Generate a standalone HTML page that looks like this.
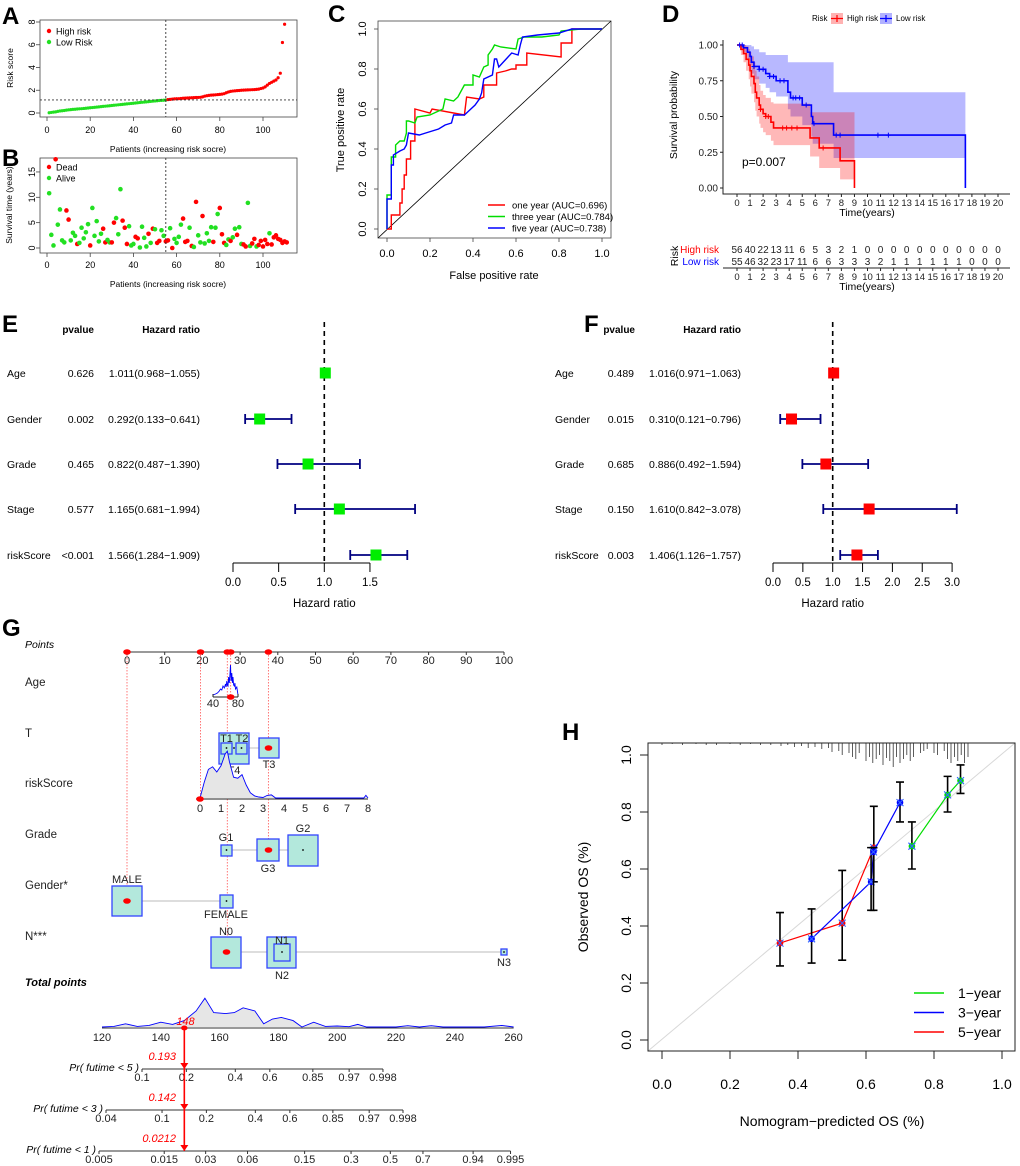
<!DOCTYPE html>
<html><head><meta charset="utf-8"><style>
html,body{margin:0;padding:0;background:#fff;}
svg{display:block;font-family:"Liberation Sans",Arial,sans-serif;}
</style></head><body>
<svg id="fig" width="1020" height="1166" viewBox="0 0 1020 1166" xmlns="http://www.w3.org/2000/svg">
<rect width="1020" height="1166" fill="#fff"/>
<g font-weight="bold" font-size="24" fill="#000">
<text x="2" y="24">A</text>
<text x="2" y="166">B</text>
<text x="328" y="22">C</text>
<text x="662" y="22">D</text>
<text x="2" y="332">E</text>
<text x="584" y="332">F</text>
<text x="2" y="636">G</text>
<text x="562" y="740">H</text>
</g>
</svg>
<script>
// ---------- DATA ----------
const riskScores=[0.02,0.05,0.08,0.1,0.14,0.18,0.2,0.22,0.25,0.28,0.3,0.32,0.33,0.35,0.37,0.38,0.4,0.42,0.44,0.46,0.48,0.5,0.52,0.54,0.56,0.58,0.6,0.62,0.64,0.66,0.68,0.7,0.72,0.74,0.76,0.78,0.8,0.82,0.84,0.86,0.88,0.9,0.92,0.94,0.96,0.98,1.0,1.02,1.04,1.06,1.08,1.1,1.11,1.12,1.14,
1.18,1.2,1.22,1.24,1.25,1.26,1.28,1.3,1.31,1.32,1.33,1.34,1.35,1.36,1.37,1.38,1.42,1.48,1.52,1.55,1.57,1.58,1.6,1.62,1.64,1.66,1.7,1.78,1.85,1.9,1.93,1.95,1.97,1.98,2.0,2.01,2.02,2.03,2.04,2.05,2.06,2.08,2.1,2.15,2.2,2.3,2.45,2.6,2.7,2.8,2.9,3.1,3.5,6.2,7.8];
const riskCutoff=1.15;
const survTimes=[10.8,2.6,0.5,17.5,4.6,7.6,1.5,1.1,7.4,5.6,1.5,3.0,2.4,0.8,1.0,4.0,1.9,3.1,4.7,0.5,7.9,2.4,5.3,1.3,2.8,3.8,1.1,1.6,1.1,1.1,5.0,5.9,2.7,11.6,5.4,4.0,0.8,4.3,0.5,0.8,2.2,1.9,0.1,4.2,2.0,0.3,2.8,1.0,3.8,3.7,1.0,1.4,3.5,2.4,1.3,1.5,3.9,0.0,1.8,1.0,2.2,4.6,5.8,1.2,1.4,4.0,0.4,0.2,9.1,2.5,1.1,6.3,0.9,2.9,1.4,4.1,1.2,4.0,6.7,7.9,2.7,1.0,0.6,1.7,1.4,2.1,3.8,2.6,4.1,0.8,0.7,0.3,8.9,0.4,0.9,1.8,0.3,0.6,1.4,0.3,1.6,0.8,2.9,0.7,2.1,2.5,1.8,1.6,1.0,1.3,1.1];
const survStatus=[0,0,0,1,0,0,0,0,1,1,0,0,0,1,0,0,0,0,0,1,0,0,0,0,0,1,1,0,0,1,1,0,0,0,1,1,1,0,0,0,1,1,0,0,0,0,1,0,1,0,1,1,0,0,1,1,0,1,0,0,0,0,1,1,1,0,1,0,1,0,0,1,0,0,0,0,1,0,0,1,1,1,0,0,1,0,0,1,0,0,1,1,0,0,1,1,0,1,1,1,1,1,0,1,1,1,1,1,1,1,1];
const rocRedX=[0,0.02,0.02,0.06,0.06,0.07,0.07,0.08,0.08,0.09,0.09,0.11,0.11,0.13,0.13,0.2,0.21,0.36,0.37,0.43,0.45,0.45,0.51,0.51,0.55,0.58,0.6,0.6,0.65,0.65,0.81,0.81,0.86,0.86,1];
const rocRedY=[0,0,0.07,0.07,0.13,0.13,0.2,0.2,0.27,0.27,0.35,0.35,0.44,0.44,0.6,0.58,0.6,0.57,0.66,0.65,0.66,0.72,0.72,0.78,0.79,0.8,0.8,0.82,0.82,0.88,0.86,0.93,0.93,1,1];
const rocGreenX=[0,0,0.02,0.02,0.04,0.04,0.06,0.08,0.09,0.09,0.1,0.13,0.14,0.2,0.26,0.27,0.31,0.33,0.36,0.4,0.4,0.43,0.45,0.47,0.47,0.49,0.5,0.53,0.6,0.61,0.64,0.72,0.8,0.81,0.9,1];
const rocGreenY=[0,0.17,0.17,0.36,0.36,0.42,0.44,0.44,0.48,0.54,0.54,0.53,0.56,0.57,0.6,0.65,0.64,0.66,0.72,0.72,0.77,0.76,0.81,0.82,0.87,0.9,0.92,0.91,0.9,0.95,0.96,0.96,0.97,0.99,1,1];
const rocBlueX=[0,0,0.02,0.02,0.03,0.03,0.06,0.08,0.09,0.1,0.15,0.18,0.24,0.27,0.3,0.31,0.36,0.38,0.41,0.43,0.44,0.45,0.49,0.5,0.51,0.52,0.58,0.61,0.62,0.63,0.7,0.8,0.86,1];
const rocBlueY=[0,0.15,0.15,0.32,0.32,0.37,0.39,0.4,0.42,0.48,0.47,0.48,0.5,0.52,0.53,0.57,0.57,0.59,0.62,0.65,0.68,0.75,0.77,0.85,0.85,0.81,0.88,0.87,0.92,0.96,0.97,0.98,1,1];
const rocLegend=["one year (AUC=0.696)","three year (AUC=0.784)","five year (AUC=0.738)"];
const hiT=[0,0.3,0.5,0.7,0.9,1.0,1.1,1.3,1.4,1.5,1.7,1.8,2.0,2.2,2.6,2.8,5.6,6.3,7.9,9.0];
const hiS=[1,0.97,0.94,0.90,0.86,0.82,0.78,0.73,0.67,0.63,0.58,0.55,0.52,0.50,0.46,0.42,0.35,0.28,0.19,0];
const hiU=[1,1,1,0.99,0.97,0.95,0.92,0.88,0.82,0.78,0.72,0.68,0.65,0.63,0.6,0.59,0.53,0.53,0.53,0.53];
const hiL=[1,0.93,0.88,0.82,0.76,0.71,0.66,0.6,0.54,0.5,0.45,0.42,0.39,0.37,0.33,0.3,0.22,0.14,0.06,0.06];
const loT=[0,0.5,0.8,1.0,1.1,1.3,1.7,2.2,2.5,3.0,3.9,4.1,5.0,5.7,5.8,7.4,17.5];
const loS=[1,0.98,0.95,0.92,0.88,0.85,0.83,0.80,0.78,0.75,0.67,0.63,0.58,0.50,0.45,0.37,0];
const loU=[1,1,1,1,0.99,0.97,0.95,0.93,0.93,0.93,0.88,0.88,0.88,0.88,0.88,0.67,0.67];
const loL=[1,0.95,0.9,0.86,0.8,0.76,0.73,0.7,0.67,0.64,0.55,0.5,0.44,0.36,0.31,0.21,0.21];
const hiCens=[1.8,2.2,2.4,3.5,3.8,4.2,4.6,6.6];
const loCens=[0.2,0.4,1.3,1.7,2.0,2.5,2.8,3.3,3.6,4.3,4.5,4.8,5.3,5.9,7.6,7.9,10.8,11.6];
const riskHigh=[56,40,22,13,11,6,5,3,2,1,0,0,0,0,0,0,0,0,0,0,0];
const riskLow=[55,46,32,23,17,11,6,6,3,3,3,2,1,1,1,1,1,1,0,0,0];
const forestVars=["Age","Gender","Grade","Stage","riskScore"];
const eP=["0.626","0.002","0.465","0.577","<0.001"];
const eHR=[1.011,0.292,0.822,1.165,1.566];
const eLo=[0.968,0.133,0.487,0.681,1.284];
const eHi=[1.055,0.641,1.390,1.994,1.909];
const fP=["0.489","0.015","0.685","0.150","0.003"];
const fHR=[1.016,0.310,0.886,1.610,1.406];
const fLo=[0.971,0.121,0.492,0.842,1.126];
const fHi=[1.063,0.796,1.594,3.078,1.757];
const ageVals=[40,44,47,50,52,54,56,58,60,61,62,63,64,65,66,67,68,69,70,71,72,73,74,75,76,78,80];
const ageDens=[0,1,2,4,6,5,9,7,11,8,14,10,9,18,12,20,30,14,22,12,18,10,9,12,6,8,0];
const rsVals=[0,0.2,0.4,0.6,0.8,1.0,1.2,1.3,1.4,1.6,1.8,2.0,2.2,2.4,2.6,2.8,3.0,3.2,3.4,3.6,3.8,4,5,6,7,7.8,7.9,8];
const rsDens=[0,0.3,0.55,0.6,0.5,0.62,0.85,0.9,0.7,0.4,0.38,0.45,0.25,0.1,0.04,0.02,0.01,0.05,0.06,0,0,0,0,0,0,0,0.05,0];
const tpVals=[120,124,128,132,136,140,144,148,152,155,158,162,165,168,172,175,178,181,185,188,192,196,200,204,207,210,214,220,224,228,232,236,250,256,260];
const tpDens=[0,0.02,0.1,0.02,0.05,0.15,0.08,0.2,0.5,0.9,0.45,0.42,0.45,0.6,0.5,0.1,0.25,0.3,0.2,0,0.15,0.02,0.03,0.01,0.08,0,0,0,0.04,0,0.04,0,0,0.05,0];
const pr5Ticks=[0.1,0.2,0.4,0.6,0.85,0.97,0.998];
const pr3Ticks=[0.04,0.1,0.2,0.4,0.6,0.85,0.97,0.998];
const pr1Ticks=[0.005,0.015,0.03,0.06,0.15,0.3,0.5,0.7,0.94,0.995];
const totalPoints=148;
const prValues=["0.193","0.142","0.0212"];
const cal1X=[0.735,0.84,0.878], cal1Y=[0.68,0.86,0.91], cal1Lo=[0.60,0.80,0.865], cal1Hi=[0.765,0.925,0.965];
const cal3X=[0.44,0.615,0.622,0.70], cal3Y=[0.355,0.555,0.66,0.833], cal3Lo=[0.27,0.455,0.455,0.765], cal3Hi=[0.46,0.675,0.675,0.905];
const cal5X=[0.347,0.53,0.623], cal5Y=[0.34,0.41,0.675], cal5Lo=[0.26,0.28,0.555], cal5Hi=[0.447,0.595,0.82];
const rugX=[0.0,0.03,0.06,0.1,0.13,0.16,0.2,0.23,0.26,0.29,0.32,0.35,0.37,0.39,0.41,0.43,0.45,0.47,0.49,0.5,0.52,0.53,0.55,0.56,0.57,0.58,0.6,0.61,0.62,0.63,0.64,0.65,0.66,0.67,0.68,0.69,0.7,0.71,0.72,0.73,0.74,0.76,0.77,0.78,0.8,0.81,0.83,0.84,0.85,0.86,0.87,0.88,0.89,0.9];
const rugH=[2,1,2,1,2,2,1,2,1,2,2,3,2,4,3,5,4,6,5,9,8,12,10,14,16,10,18,14,20,16,12,22,15,18,24,14,20,16,12,18,14,10,8,6,10,12,8,16,20,14,18,12,20,14];

// ---------- HELPERS ----------
const NS='http://www.w3.org/2000/svg';
const svg=document.getElementById('fig');
function mk(tag,attrs,parent){const e=document.createElementNS(NS,tag);for(const k in attrs)e.setAttribute(k,attrs[k]);(parent||svg).appendChild(e);return e;}
function tx(x,y,s,attrs,parent){const e=mk('text',Object.assign({x:x,y:y},attrs||{}),parent);e.textContent=s;return e;}
function poly(xs,ys){return xs.map((v,i)=>v.toFixed(1)+','+ys[i].toFixed(1)).join(' ');}
let e;

// ---------- PANEL A ----------
const xA=p=>47+p*2.16, yA=v=>113-v*11.375;
e=mk('rect',{x:40,y:20,width:257,height:97,fill:'none',stroke:'#444','stroke-width':0.8});


riskScores.forEach((v,i)=>{
  e=mk('circle',{cx:xA(i+1),cy:yA(v),r:1.6,fill:v>riskCutoff?'#ff0000':'#22e022'});
  
  
});
e=mk('line',{x1:40,x2:297,y1:yA(riskCutoff),y2:yA(riskCutoff),stroke:'#333','stroke-dasharray':'2,2','stroke-width':0.9});


e=mk('line',{x1:xA(55),x2:xA(55),y1:20,y2:117,stroke:'#333','stroke-dasharray':'2,2','stroke-width':0.9});


[0,2,4,6,8].forEach(v=>{
  e=mk('line',{x1:36,x2:40,y1:yA(v),y2:yA(v),stroke:'#444','stroke-width':0.8});
  
  
  e=tx(32,yA(v)+3,String(v),{'font-size':9,'text-anchor':'middle',transform:`rotate(-90 32 ${yA(v)})`});
  
  
});
[0,20,40,60,80,100].forEach(v=>{
  e=mk('line',{x1:xA(v),x2:xA(v),y1:117,y2:121,stroke:'#444','stroke-width':0.8});
  
  
  e=tx(xA(v),133,String(v),{'font-size':9,'text-anchor':'middle'});
  
  
});
e=tx(168,152,'Patients (increasing risk socre)',{'font-size':8.5,'text-anchor':'middle'});


e=tx(13,68,'Risk score',{'font-size':8.5,'text-anchor':'middle',transform:'rotate(-90 13 68)'});


e=mk('circle',{cx:49,cy:31,r:2.2,fill:'#ff0000'});


e=tx(56,34.5,'High risk',{'font-size':9});


e=mk('circle',{cx:49,cy:42,r:2.2,fill:'#22e022'});


e=tx(56,45.5,'Low Risk',{'font-size':9});



// ---------- PANEL B ----------
const yB=v=>248-v*5.07;
e=mk('rect',{x:40,y:158,width:257,height:95,fill:'none',stroke:'#444','stroke-width':0.8});


survTimes.forEach((v,i)=>{
  e=mk('circle',{cx:xA(i+1),cy:yB(v),r:2.3,fill:survStatus[i]?'#ff0000':'#22e022'});
  
  
});
e=mk('line',{x1:xA(55),x2:xA(55),y1:158,y2:253,stroke:'#333','stroke-dasharray':'2,2','stroke-width':0.9});


[0,5,10,15].forEach(v=>{
  e=mk('line',{x1:36,x2:40,y1:yB(v),y2:yB(v),stroke:'#444','stroke-width':0.8});
  
  
  e=tx(32,yB(v)+3,String(v),{'font-size':9,'text-anchor':'middle',transform:`rotate(-90 32 ${yB(v)})`});
  
  
});
[0,20,40,60,80,100].forEach(v=>{
  e=mk('line',{x1:xA(v),x2:xA(v),y1:253,y2:257,stroke:'#444','stroke-width':0.8});
  
  
  e=tx(xA(v),268,String(v),{'font-size':9,'text-anchor':'middle'});
  
  
});
e=tx(168,287,'Patients (increasing risk socre)',{'font-size':8.5,'text-anchor':'middle'});


e=tx(12,205,'Survival time (years)',{'font-size':8.5,'text-anchor':'middle',transform:'rotate(-90 12 205)'});


e=mk('circle',{cx:49,cy:167,r:2.2,fill:'#ff0000'});


e=tx(56,170.5,'Dead',{'font-size':9});


e=mk('circle',{cx:49,cy:178,r:2.2,fill:'#22e022'});


e=tx(56,181.5,'Alive',{'font-size':9});



// ---------- PANEL C ----------
const xC=v=>387+v*215, yC=v=>229-v*200;
e=mk('rect',{x:378,y:21,width:233,height:217,fill:'none',stroke:'#444','stroke-width':0.8});


e=mk('line',{x1:378,y1:238,x2:611,y2:21,stroke:'#000','stroke-width':0.8});


[[rocRedX,rocRedY,'#ff0000','roc-curve-one-year'],[rocGreenX,rocGreenY,'#00dd00','roc-curve-three-year'],[rocBlueX,rocBlueY,'#0000ff','roc-curve-five-year']].forEach(c=>{
  e=mk('polyline',{points:poly(c[0].map(xC),c[1].map(yC)),fill:'none',stroke:c[2],'stroke-width':1.4});
  
  
});
[0,0.2,0.4,0.6,0.8,1].forEach(v=>{
  e=mk('line',{x1:xC(v),x2:xC(v),y1:238,y2:242,stroke:'#444','stroke-width':0.8});
  
  
  e=tx(xC(v),257,v.toFixed(1),{'font-size':11,'text-anchor':'middle'});
  
  
  e=mk('line',{x1:374,x2:378,y1:yC(v),y2:yC(v),stroke:'#444','stroke-width':0.8});
  
  
  e=tx(366,yC(v),v.toFixed(1),{'font-size':11,'text-anchor':'middle',transform:`rotate(-90 366 ${yC(v)})`});
  
  
});
e=tx(494,279,'False positive rate',{'font-size':11,'text-anchor':'middle'});


e=tx(344,130,'True positive rate',{'font-size':11,'text-anchor':'middle',transform:'rotate(-90 344 130)'});


['#ff0000','#00dd00','#0000ff'].forEach((c,i)=>{
  e=mk('line',{x1:488,x2:505,y1:205+i*11.5,y2:205+i*11.5,stroke:c,'stroke-width':1.4});
  
  
  e=tx(512,208.5+i*11.5,rocLegend[i],{'font-size':9.5});
  
  
});

// ---------- PANEL D ----------
const xD=t=>737+t*13.05, yD=s=>188-s*143;
function stepPath(T,S,endT){let d='M'+xD(T[0])+' '+yD(S[0]);for(let i=1;i<T.length;i++){d+=' H'+xD(T[i])+' V'+yD(S[i]);}if(endT!==undefined)d+=' H'+xD(endT);return d;}
function band(T,U,L){let top=[],bot=[];for(let i=0;i<T.length;i++){const t2=i<T.length-1?T[i+1]:T[i];top.push([xD(T[i]),yD(U[i])],[xD(t2),yD(U[i])]);bot.push([xD(T[i]),yD(L[i])],[xD(t2),yD(L[i])]);}return top.concat(bot.reverse()).map(p=>p[0].toFixed(1)+','+p[1].toFixed(1)).join(' ');}
function stepAt(T,S,t){let s=S[0];for(let i=0;i<T.length;i++){if(T[i]<=t)s=S[i];}return s;}
e=mk('polygon',{points:band(loT,loU,loL),fill:'#0000ff','fill-opacity':0.28});


e=mk('polygon',{points:band(hiT,hiU,hiL),fill:'#ff0000','fill-opacity':0.28});


e=mk('path',{d:stepPath(loT,loS),fill:'none',stroke:'#0000ff','stroke-width':1.6});


e=mk('path',{d:stepPath(hiT,hiS),fill:'none',stroke:'#ff0000','stroke-width':1.6});


loCens.forEach(t=>{const x=xD(t),y=yD(stepAt(loT,loS,t));
  e=mk('path',{d:`M${x-2.5} ${y}H${x+2.5}M${x} ${y-2.5}V${y+2.5}`,stroke:'#0000ff','stroke-width':1});
  
  });
hiCens.forEach(t=>{const x=xD(t),y=yD(stepAt(hiT,hiS,t));
  e=mk('path',{d:`M${x-2.5} ${y}H${x+2.5}M${x} ${y-2.5}V${y+2.5}`,stroke:'#ff0000','stroke-width':1});
  
  });
e=mk('path',{d:'M723 40V194H1010',fill:'none',stroke:'#222','stroke-width':1});


[0,0.25,0.5,0.75,1].forEach(v=>{
  e=mk('line',{x1:720,x2:723,y1:yD(v),y2:yD(v),stroke:'#222'});
  
  
  e=tx(718,yD(v)+3.5,v.toFixed(2),{'font-size':10,'text-anchor':'end','fill':'#222'});
  
  
});
for(let t=0;t<=20;t++){
  e=mk('line',{x1:xD(t),x2:xD(t),y1:194,y2:197,stroke:'#222'});
  
  
  e=tx(xD(t),206,String(t),{'font-size':9.5,'text-anchor':'middle','fill':'#222'});
  
  
  e=mk('line',{x1:xD(t),x2:xD(t),y1:268,y2:271,stroke:'#222'});
  
  
  e=tx(xD(t),280,String(t),{'font-size':9.5,'text-anchor':'middle','fill':'#222'});
  
  
  e=tx(xD(t),253,String(riskHigh[t]),{'font-size':10,'text-anchor':'middle','fill':'#222'});
  
  
  e=tx(xD(t),265,String(riskLow[t]),{'font-size':10,'text-anchor':'middle','fill':'#222'});
  
  
}
e=tx(867,216,'Time(years)',{'font-size':10.5,'text-anchor':'middle'});


e=tx(677,115,'Survival probability',{'font-size':10.5,'text-anchor':'middle',transform:'rotate(-90 677 115)'});


e=tx(742,166,'p=0.007',{'font-size':12});


e=mk('line',{x1:723,x2:1010,y1:268,y2:268,stroke:'#222'});


e=tx(719,253,'High risk',{'font-size':10,'text-anchor':'end',fill:'#ff0000'});


e=tx(719,265,'Low risk',{'font-size':10,'text-anchor':'end',fill:'#0000ff'});


e=tx(678,256,'Risk',{'font-size':10.5,'text-anchor':'middle',transform:'rotate(-90 678 256)'});


e=tx(867,290,'Time(years)',{'font-size':10.5,'text-anchor':'middle'});


e=tx(812,21,'Risk',{'font-size':8});


e=mk('rect',{x:831,y:13,width:12,height:11,fill:'#ff0000','fill-opacity':0.3});


e=mk('path',{d:'M831 18.5H843M837 15V22',stroke:'#ff0000','stroke-width':1.2});


e=tx(847,21,'High risk',{'font-size':8});


e=mk('rect',{x:880,y:13,width:12,height:11,fill:'#0000ff','fill-opacity':0.3});


e=mk('path',{d:'M880 18.5H892M886 15V22',stroke:'#0000ff','stroke-width':1.2});


e=tx(896,21,'Low risk',{'font-size':8});



// ---------- PANELS E / F ----------
const rowY=[373,419,464,509,555];
function forest(cfg){
  const xs=v=>cfg.x0+v*cfg.k;
  e=tx(cfg.pvX,333,'pvalue',{'font-size':10,'font-weight':'bold','text-anchor':'end'});
  
  
  e=tx(cfg.hrR,333,'Hazard ratio',{'font-size':10,'font-weight':'bold','text-anchor':'end'});
  
  
  e=mk('line',{x1:xs(1),x2:xs(1),y1:322,y2:563,stroke:'#000','stroke-width':1.6,'stroke-dasharray':'5,4'});
  
  
  forestVars.forEach((v,i)=>{
    const y=rowY[i];
    e=tx(cfg.labX,y+4,v,{'font-size':10.5});
    
    
    e=tx(cfg.pvR,y+4,cfg.P[i],{'font-size':10.5,'text-anchor':'end'});
    
    
    e=tx(cfg.hrR,y+4,cfg.HR[i].toFixed(3)+'('+cfg.Lo[i].toFixed(3)+'\u2212'+cfg.Hi[i].toFixed(3)+')',{'font-size':10.5,'text-anchor':'end'});
    
    
    e=mk('path',{d:`M${xs(cfg.Lo[i])} ${y}H${xs(cfg.Hi[i])}M${xs(cfg.Lo[i])} ${y-5}V${y+5}M${xs(cfg.Hi[i])} ${y-5}V${y+5}`,stroke:'#000080','stroke-width':1.8,fill:'none'});
    
    
    e=mk('rect',{x:xs(cfg.HR[i])-5.5,y:y-5.5,width:11,height:11,fill:cfg.col});
    
    
  });
  e=mk('line',{x1:xs(0),x2:xs(cfg.ticks[cfg.ticks.length-1]),y1:563,y2:563,stroke:'#000'});
  
  
  cfg.ticks.forEach(t=>{
    e=mk('line',{x1:xs(t),x2:xs(t),y1:563,y2:572,stroke:'#000'});
    
    
    e=tx(xs(t),586,t.toFixed(1),{'font-size':11.5,'text-anchor':'middle'});
    
    
  });
  e=tx(xs(1),607,'Hazard ratio',{'font-size':11.5,'text-anchor':'middle'});
  
  
}
forest({x0:233,k:91.3,labX:7,pvR:94,pvX:94,hrR:200,P:eP,HR:eHR,Lo:eLo,Hi:eHi,col:'#00ee00',ticks:[0,0.5,1,1.5]});
forest({x0:773,k:59.7,labX:555,pvR:634,pvX:635,hrR:741,P:fP,HR:fHR,Lo:fLo,Hi:fHi,col:'#ff0000',ticks:[0,0.5,1,1.5,2,2.5,3]});

// ---------- PANEL G (nomogram) ----------
const xP=p=>127+p*3.77;
const gF={'font-size':11,'fill':'#222'};
e=tx(25,648,'Points',{'font-size':10.5,'font-style':'italic'});


e=mk('line',{x1:xP(0),x2:xP(100),y1:652,y2:652,stroke:'#333'});


for(let p=0;p<=100;p+=10){
  e=tx(xP(p),664,String(p),Object.assign({'text-anchor':'middle'},gF));
  
  
  e=mk('line',{x1:xP(p),x2:xP(p),y1:652,y2:655,stroke:'#333'});
  
  
}
[['Age',686],['T',737],['riskScore',787],['Grade',838],['Gender*',889],['N***',940]].forEach(r=>{
  e=tx(25,r[1],r[0],{'font-size':11.5,'fill':'#222'});
  
  
});
e=tx(25,986,'Total points',{'font-size':11,'font-weight':'bold','font-style':'italic'});


[[xP(0),901],[xP(19.5),799],[xP(26.6),952],[xP(27.5),697],[xP(37.5),850]].forEach(g=>{
  e=mk('line',{x1:g[0],x2:g[0],y1:652,y2:g[1],stroke:'#ff5555','stroke-width':0.8,'stroke-dasharray':'1.5,1.5'});
  
  
  e=mk('ellipse',{cx:g[0],cy:652,rx:3.8,ry:2.8,fill:'#ff0000'});
  
  
});
const xAge=a=>213+(a-40)*0.625;
e=mk('polyline',{points:poly(ageVals.map(xAge),ageDens.map(d=>695-d)),fill:'none',stroke:'#0000ff','stroke-width':0.9});


e=mk('path',{d:'M213 697H238M213 694V697M238 694V697',stroke:'#222',fill:'none'});


e=tx(213,707,'40',Object.assign({'text-anchor':'middle'},gF));


e=tx(238,707,'80',Object.assign({'text-anchor':'middle'},gF));


e=mk('ellipse',{cx:xP(27.5),cy:697,rx:3.8,ry:2.8,fill:'#ff0000'});


function box(x1,y1,x2,y2,name){e=mk('rect',{x:x1,y:y1,width:x2-x1,height:y2-y1,fill:'#b3e8dc',stroke:'#3344ff','stroke-width':1.3});
  
  }
function dot(x,y,big){e=mk('ellipse',{cx:x,cy:y,rx:big?3.8:0.9,ry:big?2.8:0.9,fill:big?'#ff0000':'#000'});
  
  }
function hl(x1,x2,y){e=mk('line',{x1:x1,x2:x2,y1:y,y2:y,stroke:'#bbb','stroke-width':0.9});
  
  }
function lbl(x,y,s){e=tx(x,y,s,Object.assign({'text-anchor':'middle'},gF));
  
  }
hl(249,259,748);
box(219,733,249,764,'t4-box');box(221,743,232,754,'t1-box');box(236,743,247,754,'t2-box');box(259,738,279,758,'t3-box');
dot(226.5,748);dot(241.5,748);dot(234,748);dot(268.5,748,true);
lbl(226.5,742,'T1');lbl(242,742,'T2');lbl(234,774,'T4');lbl(269,768,'T3');
const xRS=v=>200+v*21;
e=mk('polygon',{points:poly(rsVals.map(xRS).concat([xRS(8),xRS(0)]),rsDens.map(d=>798-d*52).concat([798,798])),fill:'#e6e6e6',stroke:'none'});


e=mk('polyline',{points:poly(rsVals.map(xRS),rsDens.map(d=>798-d*52)),fill:'none',stroke:'#0000ff','stroke-width':0.9});


e=mk('line',{x1:xRS(0)-4,x2:xRS(8),y1:799,y2:799,stroke:'#222'});


for(let v=0;v<=8;v++){
  e=tx(xRS(v),812,String(v),Object.assign({'text-anchor':'middle'},gF));
  
  
}
dot(xRS(0),799,true);
hl(232,288,850);
box(221,845,232,856,'g1-box');box(257,839,279,861,'g3-box');box(288,835,318,866,'g2-box');
dot(226.5,850);dot(303,850);dot(268.5,850,true);
lbl(226,841,'G1');lbl(268,872,'G3');lbl(303,832,'G2');
hl(142,220,901);
box(112,886,142,916,'male-box');box(220,895,233,908,'female-box');
dot(226.5,901);dot(127,901,true);
lbl(127,883,'MALE');lbl(226,918,'FEMALE');
hl(241,501,952);
box(211,937,241,968,'n0-box');box(267,937,296,968,'n2-box');box(274,944,290,961,'n1-box');box(501,949,507,955,'n3-box');
dot(282,952);dot(504,952);dot(226.5,952,true);
lbl(226,935,'N0');lbl(282,944,'N1');lbl(282,979,'N2');lbl(504,966,'N3');
const xT=p=>102+(p-120)*2.94;
e=mk('polygon',{points:poly(tpVals.map(xT),tpDens.map(d=>1027-d*32)),fill:'#e6e6e6',stroke:'none'});


e=mk('polyline',{points:poly(tpVals.map(xT),tpDens.map(d=>1027-d*32)),fill:'none',stroke:'#0000ff','stroke-width':0.9});


e=mk('line',{x1:xT(120),x2:xT(260),y1:1028,y2:1028,stroke:'#333'});


for(let p=120;p<=260;p+=20){
  e=tx(xT(p),1041,String(p),Object.assign({'text-anchor':'middle'},gF));
  
  
}
e=tx(xT(totalPoints)-8,1025,String(totalPoints),{'font-size':11,'font-style':'italic',fill:'#ff0000'});


const cll=p=>Math.log(-Math.log(1-p));
const kPr=59.1;
[[pr5Ticks,1069,142,'Pr( futime < 5 )',0],[pr3Ticks,1110,106,'Pr( futime < 3 )',1],[pr1Ticks,1151,99,'Pr( futime < 1 )',2]].forEach(a=>{
  const tk=a[0],y=a[1],x0=a[2];
  const xp=p=>x0+(cll(p)-cll(tk[0]))*kPr;
  e=mk('line',{x1:xp(tk[0]),x2:xp(tk[tk.length-1]),y1:y,y2:y,stroke:'#333'});
  
  
  tk.forEach(p=>{
    e=mk('line',{x1:xp(p),x2:xp(p),y1:y,y2:y+3,stroke:'#333'});
    
    
    e=tx(xp(p),y+12,String(p),Object.assign({'text-anchor':'middle'},gF));
    
    
  });
  e=tx(x0-3,y+2,a[3],{'font-size':10.5,'font-style':'italic','text-anchor':'end'});
  
  
  e=tx(176,y-9,prValues[a[4]],{'font-size':11,'font-style':'italic','text-anchor':'end',fill:'#ff0000'});
  
  
  e=mk('path',{d:`M${xT(totalPoints)-4} ${y-6}L${xT(totalPoints)+4} ${y-6}L${xT(totalPoints)} ${y}Z`,fill:'#ff0000'});
  
  
});
e=mk('line',{x1:xT(totalPoints),x2:xT(totalPoints),y1:1028,y2:1151,stroke:'#ff0000','stroke-width':1.6});


e=mk('ellipse',{cx:xT(totalPoints),cy:1028,rx:3.2,ry:2.5,fill:'#ff0000'});



// ---------- PANEL H ----------
const xH=v=>662+v*340, yH=v=>1040-v*285;
e=mk('line',{x1:648,y1:1051,x2:1015,y2:743,stroke:'#d8d8d8','stroke-width':1});


rugX.forEach((v,i)=>{
  e=mk('line',{x1:xH(v),x2:xH(v),y1:743,y2:743+rugH[i],stroke:'#333','stroke-width':0.8});
  
  
});
[[cal5X,cal5Y,cal5Lo,cal5Hi,'#ff0000','five-year'],[cal3X,cal3Y,cal3Lo,cal3Hi,'#0000ff','three-year'],[cal1X,cal1Y,cal1Lo,cal1Hi,'#00dd00','one-year']].forEach(c=>{
  e=mk('polyline',{points:poly(c[0].map(xH),c[1].map(yH)),fill:'none',stroke:c[4],'stroke-width':1.2});
  
  
  c[0].forEach((x,i)=>{
    const px=xH(x);
    e=mk('path',{d:`M${px} ${yH(c[2][i])}V${yH(c[3][i])}M${px-4} ${yH(c[2][i])}H${px+4}M${px-4} ${yH(c[3][i])}H${px+4}`,stroke:'#000','stroke-width':1.6,fill:'none'});
    
    
    e=mk('circle',{cx:px,cy:yH(c[1][i]),r:3.3,fill:c[4]});
    
    
    e=mk('path',{d:`M${px-3.5} ${yH(c[1][i])-3.5}L${px+3.5} ${yH(c[1][i])+3.5}M${px+3.5} ${yH(c[1][i])-3.5}L${px-3.5} ${yH(c[1][i])+3.5}`,stroke:'#3366ff','stroke-width':1.1});
    
    
  });
});
e=mk('rect',{x:648,y:743,width:367,height:308,fill:'none',stroke:'#222','stroke-width':1});


[0,0.2,0.4,0.6,0.8,1].forEach(v=>{
  e=mk('line',{x1:xH(v),x2:xH(v),y1:1051,y2:1059,stroke:'#222'});
  
  
  e=tx(xH(v),1089,v.toFixed(1),{'font-size':14,'text-anchor':'middle'});
  
  
  e=mk('line',{x1:640,x2:648,y1:yH(v),y2:yH(v),stroke:'#222'});
  
  
  e=tx(631,yH(v),v.toFixed(1),{'font-size':14,'text-anchor':'middle',transform:`rotate(-90 631 ${yH(v)})`});
  
  
});
e=tx(832,1126,'Nomogram\u2212predicted OS (%)',{'font-size':14,'text-anchor':'middle'});


e=tx(588,897,'Observed OS (%)',{'font-size':14,'text-anchor':'middle',transform:'rotate(-90 588 897)'});


[['#00dd00','1\u2212year'],['#0000ff','3\u2212year'],['#ff0000','5\u2212year']].forEach((l,i)=>{
  const y=993+i*19.5;
  e=mk('line',{x1:914,x2:944,y1:y,y2:y,stroke:l[0],'stroke-width':1.4});
  
  
  e=tx(958,y+5,l[1],{'font-size':14});
  
  
});
</script>
</body></html>
